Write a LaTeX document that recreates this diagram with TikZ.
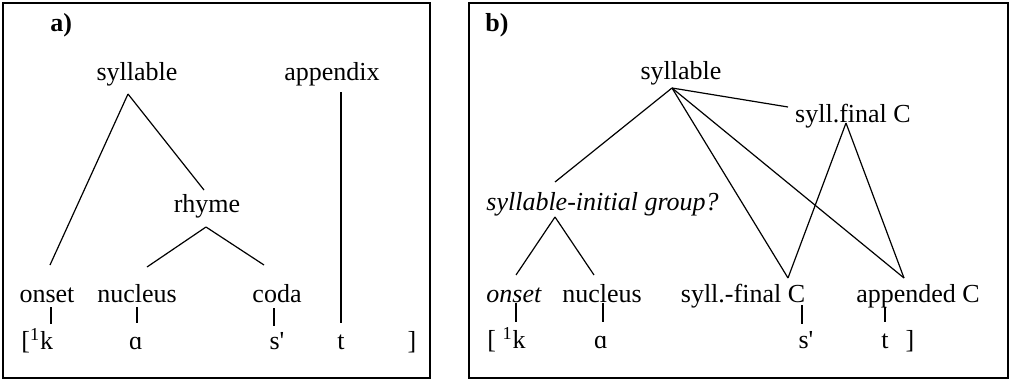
\documentclass[tikz,border=0pt]{standalone}
\usepackage{fontspec}
\setmainfont{Liberation Serif}
\begin{document}
\begin{tikzpicture}[x=0.5pt,y=-0.5pt,
  every node/.style={font=\fontsize{13}{15}\selectfont,inner sep=0pt,anchor=base},
  lbl/.style={font=\fontsize{13}{15}\selectfont\bfseries,anchor=base west},
  box/.style={line width=0.9pt},
  tree/.style={line width=0.6pt}]
\useasboundingbox (0,0) rectangle (1012,380);
\draw[box] (3,3) rectangle (430,378);
\draw[box] (469,3) rectangle (1008,378);
% a)
\node[lbl](la) at (50,32) {a)};
\node(sylA) at (137,80) {syllable};
\node(appA) at (332,80) {appendix};
\node(rhyA) at (207,212) {rhyme};
\node(onsA) at (47,302) {onset};
\node(nucA) at (137,302) {nucleus};
\node(codA) at (277,302) {coda};
\node[anchor=base west](kA) at (21,349) {[\textsuperscript{1}k};
\node(alA) at (136,349) {ɑ};
\node(sA) at (277,349) {s\textquotesingle};
\node(tA) at (341,349) {t};
\node(brA) at (412,349) {]};
\path[tree]
([shift={(-9,14)}]sylA.base) edge ([shift={(3,-37)}]onsA.base)
([shift={(-9,14)}]sylA.base) edge ([shift={(-3,-22)}]rhyA.base)
([shift={(-1,15)}]rhyA.base) edge ([shift={(10,-35)}]nucA.base)
([shift={(-1,15)}]rhyA.base) edge ([shift={(-13,-37)}]codA.base)
([shift={(9,12)}]appA.base) edge ([shift={(0,-26)}]tA.base)
([shift={(4,5)}]onsA.base) edge ([shift={(30,-25)}]kA.base west)
([shift={(0,5)}]nucA.base) edge ([shift={(1,-26)}]alA.base)
([shift={(-3,6)}]codA.base) edge ([shift={(-3,-23)}]sA.base);
% b)
\node[lbl](lb) at (485,32) {b)};
\node(sylB) at (681,79) {syllable};
\node(finB) at (853,122) {syll.final C};
\node[anchor=base west](grpB) at (486,210) {\itshape syllable-initial group?};
\node[anchor=base west](onsB) at (486,302) {\itshape onset};
\node(nucB) at (602,302) {nucleus};
\node(sfB) at (743,302) {syll.-final C};
\node(apB) at (918,302) {appended C};
\node[anchor=base west](kB) at (487,348) {[ \textsuperscript{1}k};
\node(alB) at (601,348) {ɑ};
\node(sB) at (806,348) {s\textquotesingle};
\node(tB) at (885,348) {t};
\node(brB) at (910,348) {]};
\path[tree]
([shift={(-9,9)}]sylB.base) edge ([shift={(69,-28)}]grpB.base west)
([shift={(-9,9)}]sylB.base) edge ([shift={(-65,-15)}]finB.base)
([shift={(-9,9)}]sylB.base) edge ([shift={(45,-24)}]sfB.base)
([shift={(-9,9)}]sylB.base) edge ([shift={(-14,-24)}]apB.base)
([shift={(-7,1)}]finB.base) edge ([shift={(45,-24)}]sfB.base)
([shift={(-7,1)}]finB.base) edge ([shift={(-14,-24)}]apB.base)
([shift={(69,7)}]grpB.base west) edge ([shift={(30,-27)}]onsB.base west)
([shift={(69,7)}]grpB.base west) edge ([shift={(-8,-27)}]nucB.base)
([shift={(30,1)}]onsB.base west) edge ([shift={(29,-26)}]kB.base west)
([shift={(1,1)}]nucB.base) edge ([shift={(2,-26)}]alB.base)
([shift={(59,3)}]sfB.base) edge ([shift={(-4,-24)}]sB.base)
([shift={(-33,5)}]apB.base) edge ([shift={(0,-26)}]tB.base);
\end{tikzpicture}
\end{document}
